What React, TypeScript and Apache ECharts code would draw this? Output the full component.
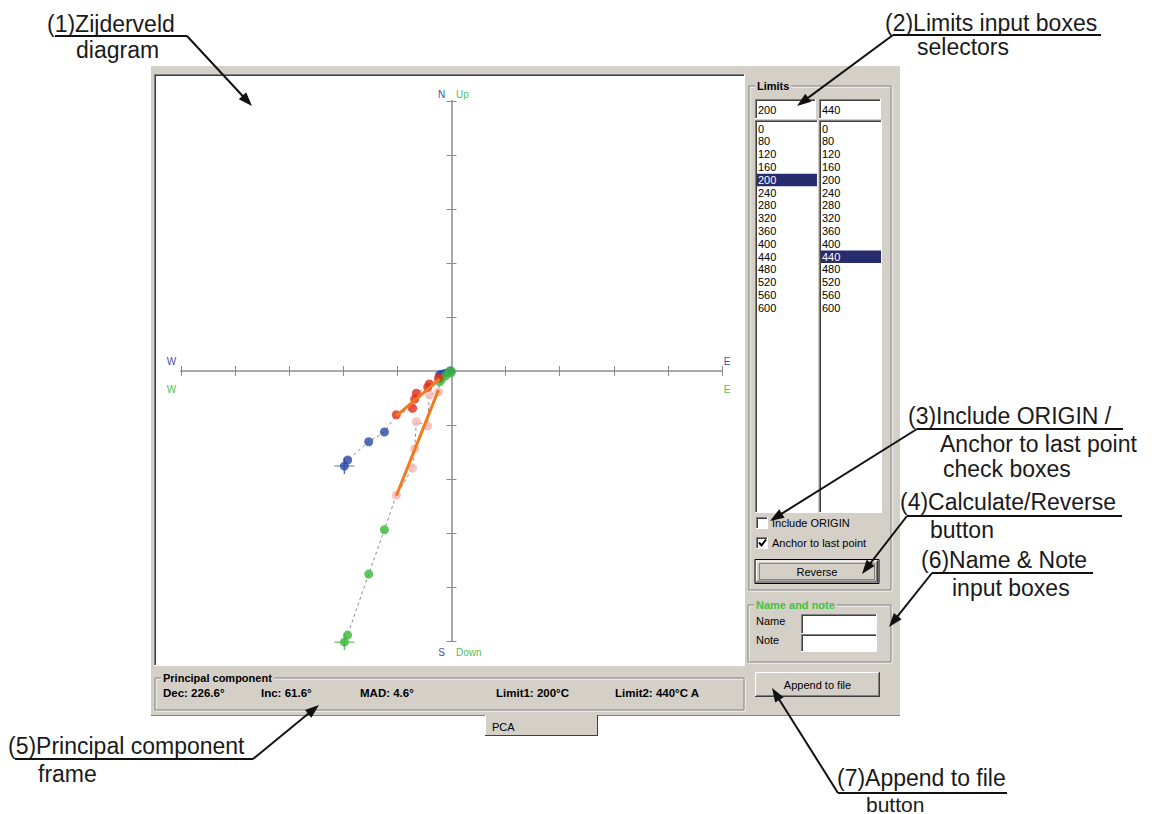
import React, { useEffect, useRef } from "react";
import * as echarts from "echarts";

// ---- data (demagnetisation steps, °C) ----
const temps = [0, 80, 120, 160, 200, 240, 280, 320, 360, 400, 440, 480, 520, 560, 600];
// East component (shared by both projections)
const east = [-0.02, -0.11, -0.18, -0.22, -0.24, -0.41, -0.44, -0.65, -0.68, -0.72, -1.02, -1.24, -1.53, -1.92, -1.98];
// North component (horizontal projection)
const north = [0, -0.04, -0.06, -0.07, -0.13, -0.24, -0.3, -0.41, -0.52, -0.69, -0.81, -1.13, -1.31, -1.65, -1.76];
// Up component (vertical projection)
const up = [-0.02, -0.09, -0.15, -0.2, -0.39, -0.44, -1.02, -0.94, -1.44, -1.8, -2.3, -2.94, -3.76, -4.89, -5.02];
const limit1 = 200;
const limit2 = 440;
// principal component fit lines (endpoints)
const pcaHorEast = [-0.22, -1.02];
const pcaHorNorth = [-0.15, -0.83];
const pcaVerEast = [-0.24, -1.02];
const pcaVerUp = [-0.35, -2.31];
// axis
const axisMin = -5;
const axisMax = 5;
const axisInterval = 1;
// UI texts
const listSteps = ["0", "80", "120", "160", "200", "240", "280", "320", "360", "400", "440", "480", "520", "560", "600"];
const pcLabels = ["Dec: 226.6°", "Inc: 61.6°", "MAD: 4.6°", "Limit1: 200°C", "Limit2: 440°C A"];

const GRAY = "#d4d0c8";
const DARK = "#808080";
const DARKER = "#404040";
const UIF = '11px "Liberation Sans", Arial, sans-serif';
const UIFB = 'bold 11px "Liberation Sans", Arial, sans-serif';
const ANF = '23px "Liberation Sans", Arial, sans-serif';

function text(x: number, y: number, t: string, font: string, fill = "#000", align = "left", z = 5, extra: any = {}) {
  return {
    type: "text",
    z,
    style: { x, y, text: t, font, fill, textAlign: align, textVerticalAlign: "middle", ...extra },
  };
}
function rect(x: number, y: number, w: number, h: number, style: any, z = -5) {
  return { type: "rect", z, shape: { x, y, width: w, height: h }, style };
}
function line(x1: number, y1: number, x2: number, y2: number, stroke: string, lw = 1, z = -4, dash?: any) {
  const st: any = { stroke, lineWidth: lw };
  if (dash) st.lineDash = dash;
  return { type: "line", z, shape: { x1, y1, x2, y2 }, style: st };
}
function sunken(x: number, y: number, w: number, h: number, fill = "#fff") {
  return [
    rect(x, y, w, h, { fill }),
    line(x, y + 0.5, x + w, y + 0.5, DARK),
    line(x + 0.5, y, x + 0.5, y + h, DARK),
    line(x + 1, y + 1.5, x + w - 1, y + 1.5, DARKER),
    line(x + 1.5, y + 1, x + 1.5, y + h - 1, DARKER),
    line(x, y + h - 0.5, x + w, y + h - 0.5, "#ffffff"),
    line(x + w - 0.5, y, x + w - 0.5, y + h, "#ffffff"),
  ];
}
function raised(x: number, y: number, w: number, h: number) {
  return [
    rect(x, y, w, h, { fill: GRAY }),
    line(x, y + 0.5, x + w, y + 0.5, "#ffffff"),
    line(x + 0.5, y, x + 0.5, y + h, "#ffffff"),
    line(x, y + h - 0.5, x + w, y + h - 0.5, DARKER),
    line(x + w - 0.5, y, x + w - 0.5, y + h, DARKER),
    line(x + 1, y + h - 1.5, x + w - 1, y + h - 1.5, DARK),
    line(x + w - 1.5, y + 1, x + w - 1.5, y + h - 1, DARK),
  ];
}
function groupBox(x: number, y: number, w: number, h: number, title: string, color = "#000", titleFont = UIFB) {
  return [
    rect(x + 1, y + 1, w, h, { fill: "none", stroke: "#ffffff", lineWidth: 1 }, -4),
    rect(x, y, w, h, { fill: "none", stroke: DARK, lineWidth: 1 }, -4),
    text(x + 6, y, title, titleFont, color, "left", -3, { backgroundColor: GRAY, padding: [0, 2] }),
  ];
}
function arrow(x1: number, y1: number, x2: number, y2: number) {
  const dx = x2 - x1, dy = y2 - y1;
  const L = Math.hypot(dx, dy);
  const ux = dx / L, uy = dy / L;
  const hl = 14, hw = 5;
  const bx = x2 - ux * hl, by = y2 - uy * hl;
  return [
    line(x1, y1, bx + ux * 2, by + uy * 2, "#111", 2, 50),
    {
      type: "polygon",
      z: 50,
      shape: { points: [[x2, y2], [bx - uy * hw, by + ux * hw], [bx + uy * hw, by - ux * hw]] },
      style: { fill: "#111" },
    },
  ];
}
function annotation(lines: [number, number, string, string?][], ux1: number, ux2: number, uy: number, ax: number, ay: number, fromX: number) {
  const els: any[] = lines.map(([x, y, t, f]) => text(x, y, t, f || ANF, "#1a1a1a", "left", 50));
  els.push(line(ux1, uy, ux2, uy, "#111", 2, 50));
  els.push(...arrow(fromX, uy, ax, ay));
  return els;
}

function buildGraphics() {
  const g: any[] = [];
  // window
  g.push(rect(151, 66, 749, 650, { fill: GRAY }, -20));
  g.push(line(151, 715.5, 900, 715.5, DARK, 1, -19));
  // PCA tab
  g.push(rect(485, 715, 113, 21, { fill: GRAY }, -18));
  g.push(line(485.5, 715, 485.5, 736, "#ffffff", 1, -17));
  g.push(line(485, 735.5, 598, 735.5, DARKER, 1, -17));
  g.push(line(597.5, 715, 597.5, 736, DARKER, 1, -17));
  g.push(text(492, 727, "PCA", UIF, "#000", "left", -3));
  // plot box
  g.push(...sunken(154, 74, 591, 592).map((e: any) => ({ ...e, z: e.z - 10 })));
  // limits group
  g.push(...groupBox(749, 86, 142, 504, "Limits"));
  g.push(...sunken(755, 99, 61, 20));
  g.push(text(758, 109.5, "200", UIF));
  g.push(...sunken(819, 99, 62, 20));
  g.push(text(822, 109.5, "440", UIF));
  g.push(...sunken(755, 120, 63, 393));
  g.push(...sunken(819, 120, 63, 393));
  listSteps.forEach((s, i) => {
    const y = 128.5 + 12.8 * i;
    const selL = Number(s) === limit1;
    const selR = Number(s) === limit2;
    if (selL) g.push(rect(757, y - 6, 60, 12.5, { fill: "#272c6e" }, -3));
    if (selR) g.push(rect(821, y - 6, 60, 12.5, { fill: "#272c6e" }, -3));
    g.push(text(758, y, s, UIF, selL ? "#ffffff" : "#000"));
    g.push(text(822, y, s, UIF, selR ? "#ffffff" : "#000"));
  });
  // check boxes
  g.push(...sunken(756, 517, 12, 12));
  g.push(text(772, 522.5, "Include ORIGIN", UIF));
  g.push(...sunken(756, 537, 12, 12));
  g.push({ type: "polyline", z: -2, shape: { points: [[759, 542.5], [761.5, 545.5], [766, 539.5]] }, style: { stroke: "#000", lineWidth: 2, fill: "none" } });
  g.push(text(772, 542.5, "Anchor to last point", UIF));
  // reverse button (focused)
  g.push(rect(755, 559.5, 124, 24, { fill: GRAY, stroke: "#000", lineWidth: 1 }, -6));
  g.push(...raised(756, 560.5, 122, 22));
  g.push(rect(759.5, 563.5, 115, 16, { fill: "none", stroke: "#333", lineWidth: 1, lineDash: [1, 1] }, -3));
  g.push(text(817, 571.5, "Reverse", UIF, "#000", "center"));
  // name and note
  g.push(...groupBox(748, 605, 143, 57, "Name and note", "#3cc43c"));
  g.push(text(756, 620.5, "Name", UIF));
  g.push(text(756, 640, "Note", UIF));
  g.push(...sunken(801, 614, 76, 20));
  g.push(...sunken(801, 634, 76, 18));
  // append button
  g.push(...raised(755, 672, 125, 25));
  g.push(text(817.5, 684.5, "Append to file", UIF, "#000", "center"));
  // principal component frame
  g.push(...groupBox(155, 678, 589, 32, "Principal component"));
  const pcX = [163, 261, 360, 496, 615];
  pcLabels.forEach((t, i) => g.push(text(pcX[i], 692.5, t, 'bold 11.5px "Liberation Sans", Arial, sans-serif')));

  // axis letters
  const BL = "#3d4fa8", GR = "#52c152";
  const AF = '10px "Liberation Sans", Arial, sans-serif';
  g.push(text(441.5, 94, "N", AF, BL, "center", 10));
  g.push(text(456, 94, "Up", AF, GR, "left", 10));
  g.push(text(441.5, 652, "S", AF, BL, "center", 10));
  g.push(text(456, 652, "Down", AF, GR, "left", 10));
  g.push(text(171.5, 361, "W", AF, BL, "center", 10));
  g.push(text(171.5, 389, "W", AF, GR, "center", 10));
  g.push(text(727, 361, "E", AF, BL, "center", 10));
  g.push(text(727, 389, "E", AF, GR, "center", 10));

  // annotations
  g.push(...annotation([[47, 24, "(1)Zijderveld"], [76, 50, "diagram"]], 55, 187, 36, 252, 106, 187));
  g.push(...annotation([[885, 23, "(2)Limits input boxes"], [917, 47, "selectors"]], 893, 1101, 35, 797, 106, 893));
  g.push(...annotation([[908, 416, "(3)Include ORIGIN /"], [940, 444, "Anchor to last point"], [943, 469, "check boxes"]], 917, 1123, 429, 770, 521, 917));
  g.push(...annotation([[900, 502, "(4)Calculate/Reverse"], [930, 530, "button"]], 907, 1122, 516, 862, 574, 907));
  g.push(...annotation([[921, 560, "(6)Name & Note"], [952, 588, "input boxes"]], 932, 1093, 573, 889, 627, 932));
  g.push(...annotation([[8, 746, "(5)Principal component"], [38, 774, "frame"]], 15, 253, 759, 319, 705, 253));
  g.push(...annotation([[837, 778, "(7)Append to file"], [866, 804, "button", '21px "Liberation Sans", Arial, sans-serif']], 838, 1007, 793, 772, 688, 838));
  return g;
}

export default function App() {
  const ref = useRef<HTMLDivElement>(null);
  useEffect(() => {
    if (!ref.current) return;
    const chart = echarts.init(ref.current, undefined, { renderer: "svg" });
    const isSel = (i: number) => temps[i] >= limit1 && temps[i] <= limit2;
    const hor = east.map((e, i) => [e, north[i]]);
    const ver = east.map((e, i) => [e, up[i]]);
    const last = temps.length - 1;
    const axisLine = { onZero: true, lineStyle: { color: "#a9a9a9", width: 2 } };
    const axisTick = { show: true, length: 5, lineStyle: { color: "#8c8c8c", width: 1 } };
    const mkAxis = (position: string) => ({
      type: "value",
      position,
      min: axisMin,
      max: axisMax,
      interval: axisInterval,
      axisLine,
      axisTick,
      axisLabel: { show: false },
      splitLine: { show: false },
    });
    const plus = "path://M0,9.3L20,9.3L20,10.7L0,10.7Z M9.3,0L10.7,0L10.7,20L9.3,20Z";
    chart.setOption({
      animation: false,
      backgroundColor: "#ffffff",
      grid: { left: 181, top: 101, width: 541, height: 540, containLabel: false },
      xAxis: [mkAxis("bottom"), mkAxis("top")],
      yAxis: [mkAxis("left"), mkAxis("right")],
      graphic: buildGraphics(),
      series: [
        { type: "line", data: hor, symbol: "none", lineStyle: { color: "#8a8a8a", width: 1, type: [3, 3] }, z: 2 },
        { type: "line", data: ver, symbol: "none", lineStyle: { color: "#8a8a8a", width: 1, type: [3, 3] }, z: 2 },
        { type: "scatter", symbolSize: 9, itemStyle: { color: "#2b48a3" }, data: hor.filter((_, i) => !isSel(i)), z: 3, clip: false },
        { type: "scatter", symbolSize: 9, itemStyle: { color: "#3cb83c" }, data: ver.filter((_, i) => !isSel(i) && i > 0), z: 3, clip: false },
        { type: "scatter", symbolSize: 9, itemStyle: { color: "#f5b5b5" }, data: ver.filter((_, i) => isSel(i)), z: 3 },
        { type: "scatter", symbolSize: 9, itemStyle: { color: "#e02a1c" }, data: hor.filter((_, i) => isSel(i)), z: 3 },
        { type: "line", data: [[pcaHorEast[0], pcaHorNorth[0]], [pcaHorEast[1], pcaHorNorth[1]]], symbol: "none", lineStyle: { color: "#f07a1c", width: 3 }, z: 4 },
        { type: "line", data: [[pcaVerEast[0], pcaVerUp[0]], [pcaVerEast[1], pcaVerUp[1]]], symbol: "none", lineStyle: { color: "#f07a1c", width: 3 }, z: 4 },
        { type: "scatter", symbol: plus, symbolSize: [20, 16], itemStyle: { color: "#2b48a3" }, data: [hor[last]], z: 5, clip: false },
        { type: "scatter", symbol: plus, symbolSize: [20, 16], itemStyle: { color: "#3cb83c" }, data: [ver[last]], z: 5, clip: false },
        { type: "scatter", symbolSize: 11, itemStyle: { color: "#3cb83c" }, data: [ver[0]], z: 6, clip: false },
      ],
    });
    return () => chart.dispose();
  }, []);
  return <div ref={ref} style={{ position: "absolute", left: 0, top: 0, width: 1152, height: 814 }} />;
}
